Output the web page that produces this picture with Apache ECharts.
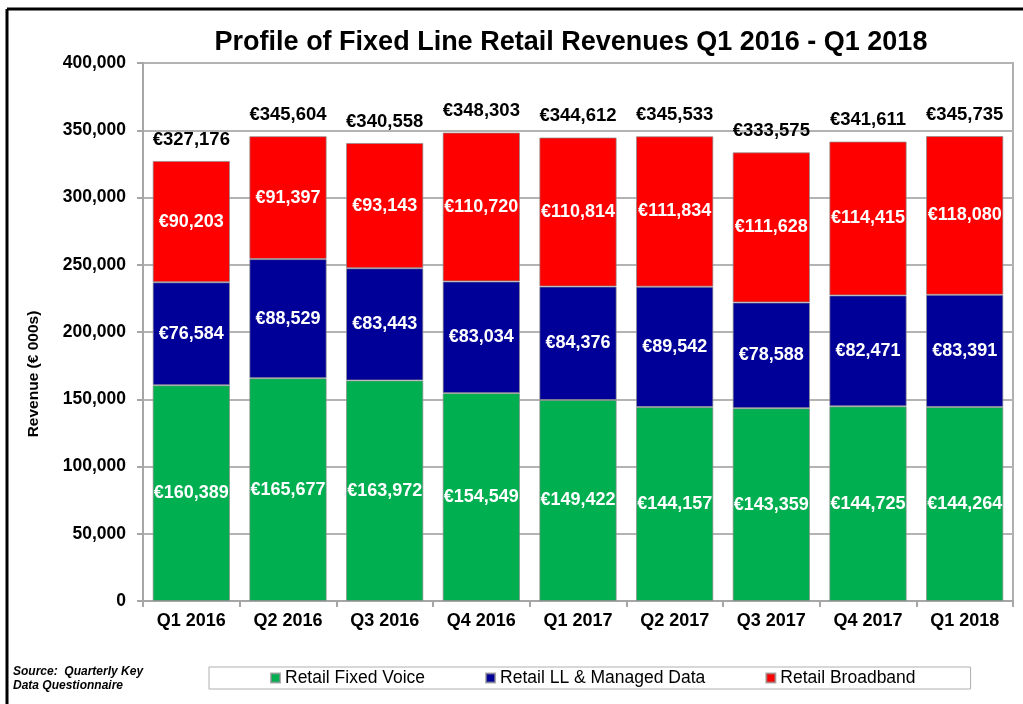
<!DOCTYPE html>
<html>
<head>
<meta charset="utf-8">
<script src="https://cdn.jsdelivr.net/npm/echarts@6/dist/echarts.min.js"></script>
<style>
  html, body { margin: 0; padding: 0; background: #fff; }
  #chart { width: 1023px; height: 704px; }
</style>
</head>
<body>
<div id="chart"></div>
<script>
// data
var quarters = ['Q1 2016', 'Q2 2016', 'Q3 2016', 'Q4 2016', 'Q1 2017', 'Q2 2017', 'Q3 2017', 'Q4 2017', 'Q1 2018']
var fixedVoice = [160389, 165677, 163972, 154549, 149422, 144157, 143359, 144725, 144264]
var llManaged = [76584, 88529, 83443, 83034, 84376, 89542, 78588, 82471, 83391]
var broadband = [90203, 91397, 93143, 110720, 110814, 111834, 111628, 114415, 118080]
var totals = [327176, 345604, 340558, 348303, 344612, 345533, 333575, 341611, 345735]

var FONT = 'Arial, "Liberation Sans", sans-serif'

function euro(v) {
  return '€' + v.toLocaleString('en-US')
}

var chart = echarts.init(document.getElementById('chart'))

var insideLabel = {
  show: true,
  position: 'inside',
  color: '#fff',
  fontSize: 18,
  fontWeight: 'bold',
  fontFamily: FONT,
  formatter: function (p) { return euro(p.value) }
}
var barBorder = { borderColor: 'rgba(140,140,140,0.7)', borderWidth: 1 }

chart.setOption({
  animation: false,
  title: {
    text: 'Profile of Fixed Line Retail Revenues Q1 2016 - Q1 2018',
    left: 566,
    textAlign: 'center',
    top: 24,
    textStyle: { fontFamily: FONT, fontSize: 27, fontWeight: 'bold', color: '#000' }
  },
  graphic: [
    // outer frame of the original picture
    { type: 'line', shape: { x1: 7, y1: 9, x2: 1023, y2: 9 }, style: { stroke: '#000', lineWidth: 3 } },
    { type: 'line', shape: { x1: 7, y1: 9, x2: 7, y2: 704 }, style: { stroke: '#000', lineWidth: 3 } },
    {
      type: 'text', x: 34, y: 374, rotation: Math.PI / 2,
      style: {
        text: 'Revenue (€ 000s)',
        font: 'bold 15.5px Arial, "Liberation Sans", sans-serif',
        fill: '#000', align: 'center', verticalAlign: 'middle'
      }
    },
    {
      type: 'text', left: 13, top: 665,
      style: {
        text: 'Source:  Quarterly Key\nData Questionnaire',
        font: 'italic bold 12px Arial, "Liberation Sans", sans-serif',
        fill: '#000', lineHeight: 14
      }
    }
  ],
  legend: {
    data: ['Retail Fixed Voice', 'Retail LL & Managed Data', 'Retail Broadband'],
    left: 209,
    top: 667,
    itemWidth: 9,
    itemHeight: 9,
    itemGap: 60,
    icon: 'rect',
    padding: [2, 55, 2, 61],
    borderColor: '#b0b0b0',
    borderWidth: 1,
    textStyle: { fontFamily: FONT, fontSize: 17.5, color: '#000' }
  },
  grid: {
    left: 143,
    right: 10,
    top: 63,
    bottom: 103,
    show: true,
    borderColor: '#b0b0b0',
    borderWidth: 2
  },
  xAxis: {
    type: 'category',
    data: quarters,
    axisLine: { lineStyle: { color: '#a6a6a6', width: 2 } },
    axisTick: { show: true, length: 6, lineStyle: { color: '#a6a6a6', width: 2 } },
    axisLabel: { color: '#000', fontFamily: FONT, fontSize: 18, fontWeight: 'bold', margin: 11 }
  },
  yAxis: {
    type: 'value',
    min: 0,
    max: 400000,
    interval: 50000,
    axisLine: { show: true, lineStyle: { color: '#a6a6a6', width: 2 } },
    axisTick: { show: true, length: 6, lineStyle: { color: '#a6a6a6', width: 2 } },
    splitLine: { lineStyle: { color: '#b3b3b3', width: 2 } },
    axisLabel: {
      color: '#000', fontFamily: FONT, fontSize: 17.5, fontWeight: 'bold', margin: 17,
      formatter: function (v) { return v.toLocaleString('en-US') }
    }
  },
  series: [
    {
      name: 'Retail Fixed Voice', type: 'bar', stack: 'rev', barCategoryGap: '20%',
      data: fixedVoice,
      itemStyle: Object.assign({ color: '#00B050' }, barBorder),
      label: insideLabel
    },
    {
      name: 'Retail LL & Managed Data', type: 'bar', stack: 'rev',
      data: llManaged,
      itemStyle: Object.assign({ color: '#000099' }, barBorder),
      label: insideLabel
    },
    {
      name: 'Retail Broadband', type: 'bar', stack: 'rev',
      data: broadband,
      itemStyle: Object.assign({ color: '#FF0000' }, barBorder),
      label: insideLabel
    },
    {
      // invisible bar just carrying the total label above each column
      name: 'Total', type: 'bar', barGap: '-100%', silent: true,
      data: totals,
      itemStyle: { color: 'transparent' },
      label: {
        show: true, position: 'top', distance: 12,
        color: '#000', fontFamily: FONT, fontSize: 18.5, fontWeight: 'bold',
        formatter: function (p) { return euro(p.value) }
      },
      z: 1
    }
  ]
})
</script>
</body>
</html>
